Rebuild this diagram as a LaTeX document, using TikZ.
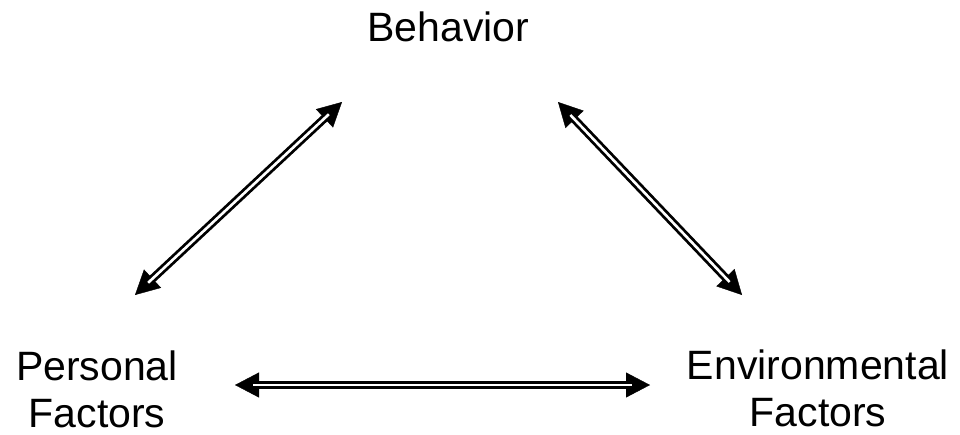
\documentclass[tikz,border=0pt]{standalone}
\usepackage{fontspec}
\setmainfont{Liberation Sans}
\usetikzlibrary{arrows.meta}
\tikzset{
  label text/.style={font=\fontsize{41}{47}\selectfont, inner sep=0pt, align=center, anchor=base},
  tips/.style={line width=0.4pt, {Triangle[length=24pt,width=25pt]}-{Triangle[length=24pt,width=25pt]}},
  shaft/.style={line width=2.8pt, double=white, double distance=2.6pt, shorten <=18pt, shorten >=18pt}
}
\begin{document}
\begin{tikzpicture}[x=1pt,y=-1pt]
\useasboundingbox[fill=white] (0,0) rectangle (960,434);
\node[label text] (beh) at (448.5,41) {Behavior};
\node[label text] (per) at (97,427) {Personal\\Factors};
\node[label text] (env) at (818,426) {Environmental\\Factors};
\coordinate (l1) at (135,295);
\coordinate (l2) at (342,102);
\coordinate (r1) at (558,102);
\coordinate (r2) at (742,295);
\coordinate (b1) at (235,385);
\coordinate (b2) at (650,385);
\draw[tips] (l1) -- (l2);
\draw[shaft] (l1) -- (l2);
\draw[tips] (r1) -- (r2);
\draw[shaft] (r1) -- (r2);
\draw[tips] (b1) -- (b2);
\draw[shaft] (b1) -- (b2);
\end{tikzpicture}
\end{document}
